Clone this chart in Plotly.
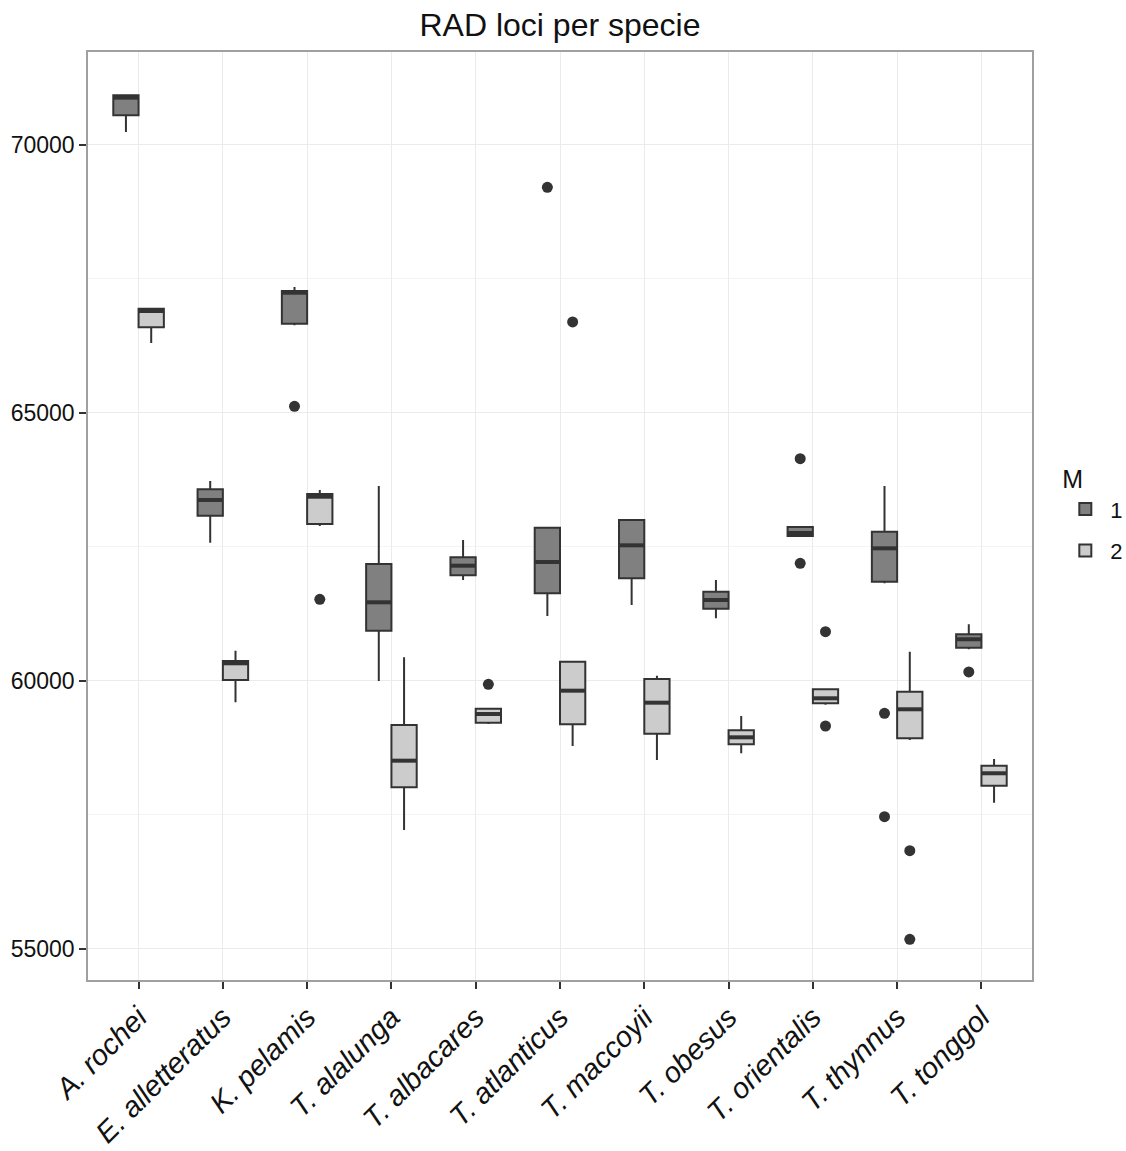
import plotly.graph_objects as go

# RAD loci counts per species, summarised as box statistics for the two M settings
species = ["A. rochei", "E. alletteratus", "K. pelamis", "T. alalunga", "T. albacares",
           "T. atlanticus", "T. maccoyii", "T. obesus", "T. orientalis", "T. thynnus", "T. tonggol"]

m1_lower = [70243, 62580, 66636, 60000, 61884, 61213, 61418, 61170, 62692, 61822, 60591]
m1_q1 = [70554, 63084, 66666, 60938, 61972, 61636, 61916, 61349, 62705, 61852, 60621]
m1_median = [70883, 63377, 67244, 61468, 62151, 62220, 62531, 61511, 62761, 62475, 60778]
m1_q3 = [70927, 63576, 67276, 62183, 62308, 62860, 63004, 61666, 62873, 62785, 60871]
m1_upper = [70939, 63731, 67351, 63638, 62630, 62860, 63020, 61884, 62873, 63638, 61057]

m2_lower = [66306, 59602, 62892, 57220, 59197, 58787, 58526, 58651, 59557, 58898, 57729]
m2_q1 = [66599, 60019, 62929, 58016, 59222, 59192, 59017, 58819, 59583, 58931, 58047]
m2_median = [66903, 60330, 63438, 58513, 59384, 59819, 59595, 58949, 59677, 59472, 58278]
m2_q3 = [66946, 60373, 63489, 59179, 59483, 60360, 60037, 59080, 59845, 59800, 58419]
m2_upper = [66959, 60565, 63563, 60442, 59483, 60360, 60099, 59347, 59845, 60547, 58544]

# outliers: (species, value)
m1_out_species = ["K. pelamis", "T. atlanticus", "T. orientalis", "T. orientalis",
                  "T. thynnus", "T. thynnus", "T. tonggol"]
m1_out_values = [65125, 69211, 64147, 62196, 59397, 57468, 60168]
m2_out_species = ["K. pelamis", "T. albacares", "T. atlanticus", "T. orientalis",
                  "T. orientalis", "T. thynnus", "T. thynnus"]
m2_out_values = [61524, 59938, 66698, 60920, 59160, 56834, 55181]

groups = ["1", "2"]
fills = ["#808080", "#cccccc"]
dodge = 0.15
box_w = 0.3
edge = "#333333"

idx = {s: i for i, s in enumerate(species)}

fig = go.Figure()

stats = [
    (m1_lower, m1_q1, m1_median, m1_q3, m1_upper, m1_out_species, m1_out_values),
    (m2_lower, m2_q1, m2_median, m2_q3, m2_upper, m2_out_species, m2_out_values),
]

for g, (lo, q1, med, q3, up, osp, oval) in enumerate(stats):
    off = -dodge if g == 0 else dodge
    xs = [i + off for i in range(len(species))]
    fig.add_trace(go.Box(
        x=xs, q1=q1, median=med, q3=q3, lowerfence=lo, upperfence=up,
        width=box_w, whiskerwidth=0, boxpoints=False,
        fillcolor=fills[g], line=dict(color=edge, width=2),
        name=groups[g], legendgroup=groups[g], hoverinfo="skip",
    ))
    # thicker median bar
    mx, my = [], []
    for x, m in zip(xs, med):
        mx += [x - box_w / 2, x + box_w / 2, None]
        my += [m, m, None]
    fig.add_trace(go.Scatter(
        x=mx, y=my, mode="lines", line=dict(color=edge, width=4),
        showlegend=False, hoverinfo="skip",
    ))
    fig.add_trace(go.Scatter(
        x=[idx[s] + off for s in osp], y=oval, mode="markers",
        marker=dict(color=edge, size=11, line=dict(width=0)),
        showlegend=False, hoverinfo="skip",
    ))

font_family = "Liberation Sans, Arial, Helvetica, sans-serif"

fig.update_layout(
    width=1126, height=1151,
    margin=dict(l=88, r=94, t=52, b=171, autoexpand=False),
    paper_bgcolor="white", plot_bgcolor="white",
    font=dict(family=font_family, color="#1a1a1a"),
    title=dict(text="RAD loci per specie", x=0.5, xref="paper", xanchor="center",
               y=1 - 25 / 1151, yref="container", yanchor="middle",
               font=dict(size=32, color="#111111")),
    showlegend=True,
    legend=dict(
        title=dict(text="M", font=dict(size=25, color="#111111")),
        x=1.03, xanchor="left", y=0.565, yanchor="top",
        font=dict(size=22, color="#111111"),
        bgcolor="rgba(0,0,0,0)", itemwidth=40,
    ),
    xaxis=dict(
        range=[-0.6, 10.6], tickvals=list(range(len(species))),
        ticktext=[f"<i>{s}</i>" for s in species],
        tickangle=-45, tickfont=dict(size=29, color="#111111"),
        showgrid=True, gridcolor="#ebebeb", gridwidth=1.2,
        zeroline=False, showline=True, linecolor="#a0a0a0", linewidth=1.5, mirror=True,
        ticks="outside", ticklen=7, tickwidth=2, tickcolor="#333333",
        automargin=False,
    ),
    yaxis=dict(
        range=[54421, 71735], tick0=0, dtick=5000, tickformat="d",
        tickfont=dict(size=23, color="#111111"),
        showgrid=True, gridcolor="#ebebeb", gridwidth=1.2,
        minor=dict(dtick=2500, tick0=0, showgrid=True, gridcolor="#f4f4f4", gridwidth=0.8, ticks=""),
        zeroline=False, showline=True, linecolor="#a0a0a0", linewidth=1.5, mirror=True,
        ticks="outside", ticklen=7, tickwidth=2, tickcolor="#333333",
        automargin=False,
    ),
)

fig.write_html("out.html")
